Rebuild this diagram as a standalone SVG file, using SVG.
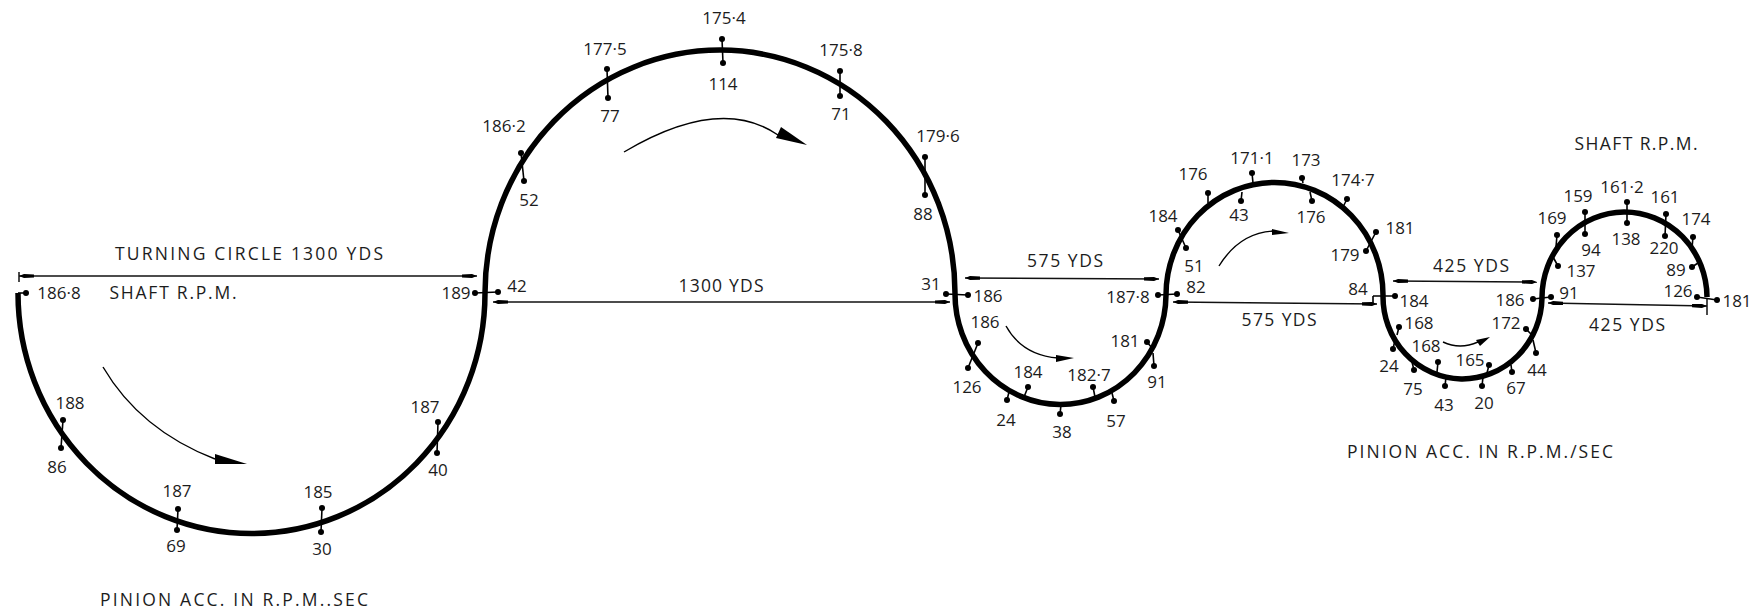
<svg xmlns="http://www.w3.org/2000/svg" width="1750" height="610" viewBox="0 0 1750 610">
<style>
text{font-family:"Open Sans","Liberation Sans",sans-serif;font-size:17px;fill:#1c1c1c;text-anchor:middle}
.cap{font-size:17.5px}
.track{fill:none;stroke:#000;stroke-width:5.5}
.dim{fill:none;stroke:#111;stroke-width:1.5}
.dir{fill:none;stroke:#000;stroke-width:1.4}
.head{fill:#000}
.node path{fill:none;stroke:#000;stroke-width:1.6}
.node circle{fill:#000}
</style>
<defs>
<marker id="da" markerUnits="userSpaceOnUse" markerWidth="16" markerHeight="6" refX="15" refY="3" orient="auto-start-reverse"><path d="M0 1.4L10 1L15 3L10 5L0 4.6Z" fill="#000"/></marker>
</defs>
<rect width="1750" height="610" fill="#fff"/>
<g id="connectors">
<path class="track" d="M18 293A233 240 0 0 0 485 293A235 243 0 0 1 955 293A105 110 0 0 0 1166 295A108 112 0 0 1 1383 295A79 82 0 0 0 1542 298A82 85 0 0 1 1707 297"/>
<path class="dim" marker-start="url(#da)" marker-end="url(#da)" d="M19 276L477 276"/>
<path class="dim" d="M19 272L19 282"/>
<path class="dim" marker-start="url(#da)" marker-end="url(#da)" d="M493 302L950 302"/>
<path class="dim" marker-start="url(#da)" marker-end="url(#da)" d="M965 278L1159 279"/>
<path class="dim" marker-start="url(#da)" marker-end="url(#da)" d="M1173 302L1377 304"/>
<path class="dim" marker-start="url(#da)" marker-end="url(#da)" d="M1393 281L1537 282"/>
<path class="dim" marker-start="url(#da)" marker-end="url(#da)" d="M1548 303L1707 306"/>
<path class="dim" d="M1707 298L1707 315"/>
<path class="dir" d="M103 367Q140 430 215 459"/><path class="head" d="M215 454L247 464L215 464Z"/>
<path class="dir" d="M624 152Q720 95 778 135"/><path class="head" d="M781 127L807 145L776 138Z"/>
<path class="dir" d="M1006 326Q1022 355 1058 358"/><path class="head" d="M1056 355L1074 358L1056 362Z"/>
<path class="dir" d="M1219 266Q1240 232 1275 231"/><path class="head" d="M1272 229L1289 233L1272 235Z"/>
<path class="dir" d="M1443 342Q1460 350 1478 342"/><path class="head" d="M1476 340L1490 337L1480 346Z"/>
</g>
<g id="s01" class="node"><path d="M18 293L26 293"/><circle cx="26" cy="293" r="3"/><text x="59" y="299">186·8</text></g>
<g id="s02" class="node"><path d="M63 420L61 448"/><circle cx="63" cy="420" r="3"/><circle cx="61" cy="448" r="3"/><text x="70" y="409">188</text><text x="57" y="473">86</text></g>
<g id="s03" class="node"><path d="M178 509L177 530"/><circle cx="178" cy="509" r="3"/><circle cx="177" cy="530" r="3"/><text x="177" y="497">187</text><text x="176" y="552">69</text></g>
<g id="s04" class="node"><path d="M322 508L321 532"/><circle cx="322" cy="508" r="3"/><circle cx="321" cy="532" r="3"/><text x="318" y="498">185</text><text x="322" y="555">30</text></g>
<g id="s05" class="node"><path d="M438 422L437 453"/><circle cx="438" cy="422" r="3"/><circle cx="437" cy="453" r="3"/><text x="425" y="413">187</text><text x="438" y="476">40</text></g>
<g id="s06" class="node"><path d="M475 293L498 292"/><circle cx="475" cy="293" r="3"/><circle cx="498" cy="292" r="3"/><text x="456" y="299">189</text><text x="517" y="292">42</text></g>
<g id="s07" class="node"><path d="M521 153L524 181"/><circle cx="521" cy="153" r="3"/><circle cx="524" cy="181" r="3"/><text x="504" y="132">186·2</text><text x="529" y="206">52</text></g>
<g id="s08" class="node"><path d="M607 69L608 98"/><circle cx="607" cy="69" r="3"/><circle cx="608" cy="98" r="3"/><text x="605" y="55">177·5</text><text x="610" y="122">77</text></g>
<g id="s09" class="node"><path d="M722 39L723 63"/><circle cx="722" cy="39" r="3"/><circle cx="723" cy="63" r="3"/><text x="724" y="24">175·4</text><text x="723" y="90">114</text></g>
<g id="s10" class="node"><path d="M840 71L840 96"/><circle cx="840" cy="71" r="3"/><circle cx="840" cy="96" r="3"/><text x="841" y="56">175·8</text><text x="841" y="120">71</text></g>
<g id="s11" class="node"><path d="M925 157L925 195"/><circle cx="925" cy="157" r="3"/><circle cx="925" cy="195" r="3"/><text x="938" y="142">179·6</text><text x="923" y="220">88</text></g>
<g id="s12" class="node"><path d="M946 294L968 295"/><circle cx="946" cy="294" r="3"/><circle cx="968" cy="295" r="3"/><text x="931" y="290">31</text><text x="988" y="302">186</text></g>
<g id="s13" class="node"><path d="M978 343L968 368"/><circle cx="978" cy="343" r="3"/><circle cx="968" cy="368" r="3"/><text x="985" y="328">186</text><text x="967" y="393">126</text></g>
<g id="s14" class="node"><path d="M1028 387L1024 397M1009 392L1007 400"/><circle cx="1028" cy="387" r="3"/><circle cx="1007" cy="400" r="3"/><text x="1028" y="378">184</text><text x="1006" y="426">24</text></g>
<g id="s15" class="node"><path d="M1061 405L1060 414"/><circle cx="1060" cy="414" r="3"/><text x="1062" y="438">38</text></g>
<g id="s16" class="node"><path d="M1093 387L1095 397M1112 393L1114 401"/><circle cx="1093" cy="387" r="3"/><circle cx="1114" cy="401" r="3"/><text x="1089" y="381">182·7</text><text x="1116" y="427">57</text></g>
<g id="s17" class="node"><path d="M1147 342L1152 348M1153 353L1154 366"/><circle cx="1147" cy="342" r="3"/><circle cx="1154" cy="366" r="3"/><text x="1125" y="347">181</text><text x="1157" y="388">91</text></g>
<g id="s18" class="node"><path d="M1158 295L1177 294"/><circle cx="1158" cy="295" r="3"/><circle cx="1177" cy="294" r="3"/><text x="1128" y="303">187·8</text><text x="1196" y="293">82</text></g>
<g id="s19" class="node"><path d="M1178 230L1186 248"/><circle cx="1178" cy="230" r="3"/><circle cx="1186" cy="248" r="3"/><text x="1163" y="222">184</text><text x="1194" y="272">51</text></g>
<g id="s20" class="node"><path d="M1208 193L1208 203"/><circle cx="1208" cy="193" r="3"/><text x="1193" y="180">176</text></g>
<g id="s21" class="node"><path d="M1242 192L1241 201M1252 173L1253 183"/><circle cx="1241" cy="201" r="3"/><circle cx="1252" cy="173" r="3"/><text x="1252" y="164">171·1</text><text x="1239" y="221">43</text></g>
<g id="s22" class="node"><path d="M1302 178L1303 183M1310 192L1312 201"/><circle cx="1302" cy="178" r="3"/><circle cx="1312" cy="201" r="3"/><text x="1306" y="166">173</text><text x="1311" y="223">176</text></g>
<g id="s23" class="node"><path d="M1347 199L1343 207"/><circle cx="1347" cy="199" r="3"/><text x="1353" y="186">174·7</text></g>
<g id="s24" class="node"><path d="M1376 232L1366 251"/><circle cx="1376" cy="232" r="3"/><circle cx="1366" cy="251" r="3"/><text x="1400" y="234">181</text><text x="1345" y="261">179</text></g>
<g id="s25" class="node"><path d="M1373 296L1395 296M1373 296L1373 303"/><circle cx="1395" cy="296" r="3"/><text x="1358" y="295">84</text><text x="1414" y="307">184</text></g>
<g id="s26" class="node"><path d="M1399 327L1397 335M1395 340L1393 349"/><circle cx="1399" cy="327" r="3"/><circle cx="1393" cy="349" r="3"/><text x="1419" y="329">168</text><text x="1389" y="372">24</text></g>
<g id="s27" class="node"><path d="M1438 362L1437 372M1412 362L1414 370"/><circle cx="1438" cy="362" r="3"/><circle cx="1414" cy="370" r="3"/><text x="1426" y="352">168</text><text x="1413" y="395">75</text></g>
<g id="s28" class="node"><path d="M1446 377L1445 386"/><circle cx="1445" cy="386" r="3"/><text x="1444" y="411">43</text></g>
<g id="s29" class="node"><path d="M1489 365L1487 373M1483 377L1482 386"/><circle cx="1489" cy="365" r="3"/><circle cx="1482" cy="386" r="3"/><text x="1470" y="366">165</text><text x="1484" y="409">20</text></g>
<g id="s30" class="node"><path d="M1511 365L1512 372"/><circle cx="1512" cy="372" r="3"/><text x="1516" y="394">67</text></g>
<g id="s31" class="node"><path d="M1526 329L1532 335M1533 340L1536 353"/><circle cx="1526" cy="329" r="3"/><circle cx="1536" cy="353" r="3"/><text x="1506" y="329">172</text><text x="1537" y="376">44</text></g>
<g id="s32" class="node"><path d="M1533 299L1551 297"/><circle cx="1533" cy="299" r="3"/><circle cx="1551" cy="297" r="3"/><text x="1510" y="306">186</text><text x="1569" y="299">91</text></g>
<g id="s33" class="node"><path d="M1557 235L1556 247M1553 257L1558 266"/><circle cx="1557" cy="235" r="3"/><circle cx="1558" cy="266" r="3"/><text x="1552" y="224">169</text><text x="1581" y="277">137</text></g>
<g id="s34" class="node"><path d="M1585 212L1585 234"/><circle cx="1585" cy="212" r="3"/><circle cx="1585" cy="234" r="3"/><text x="1578" y="202">159</text><text x="1591" y="256">94</text></g>
<g id="s35" class="node"><path d="M1627 202L1627 223"/><circle cx="1627" cy="202" r="3"/><circle cx="1627" cy="223" r="3"/><text x="1622" y="193">161·2</text><text x="1626" y="245">138</text></g>
<g id="s36" class="node"><path d="M1666 214L1665 236"/><circle cx="1666" cy="214" r="3"/><circle cx="1665" cy="236" r="3"/><text x="1665" y="203">161</text><text x="1664" y="254">220</text></g>
<g id="s37" class="node"><path d="M1693 237L1692 248M1698 263L1692 267"/><circle cx="1693" cy="237" r="3"/><circle cx="1692" cy="267" r="3"/><text x="1696" y="225">174</text><text x="1676" y="276">89</text></g>
<g id="s38" class="node"><path d="M1697 297L1717 300"/><circle cx="1697" cy="297" r="3"/><circle cx="1717" cy="300" r="3"/><text x="1678" y="297">126</text><text x="1737" y="307">181</text></g>
<g id="labels">
<text class="cap" x="249" y="260" textLength="268">TURNING CIRCLE 1300 YDS</text>
<text class="cap" x="173" y="299" textLength="127">SHAFT R.P.M.</text>
<text class="cap" x="721" y="292" textLength="85">1300 YDS</text>
<text class="cap" x="1065" y="267" textLength="76">575 YDS</text>
<text class="cap" x="1279" y="326" textLength="75">575 YDS</text>
<text class="cap" x="1471" y="272" textLength="76">425 YDS</text>
<text class="cap" x="1627" y="331" textLength="76">425 YDS</text>
<text class="cap" x="1636" y="150" textLength="123">SHAFT R.P.M.</text>
<text class="cap" x="1480" y="458" textLength="266">PINION ACC. IN R.P.M./SEC</text>
<text class="cap" x="234" y="606" textLength="268">PINION ACC. IN R.P.M..SEC</text>
</g>
</svg>
